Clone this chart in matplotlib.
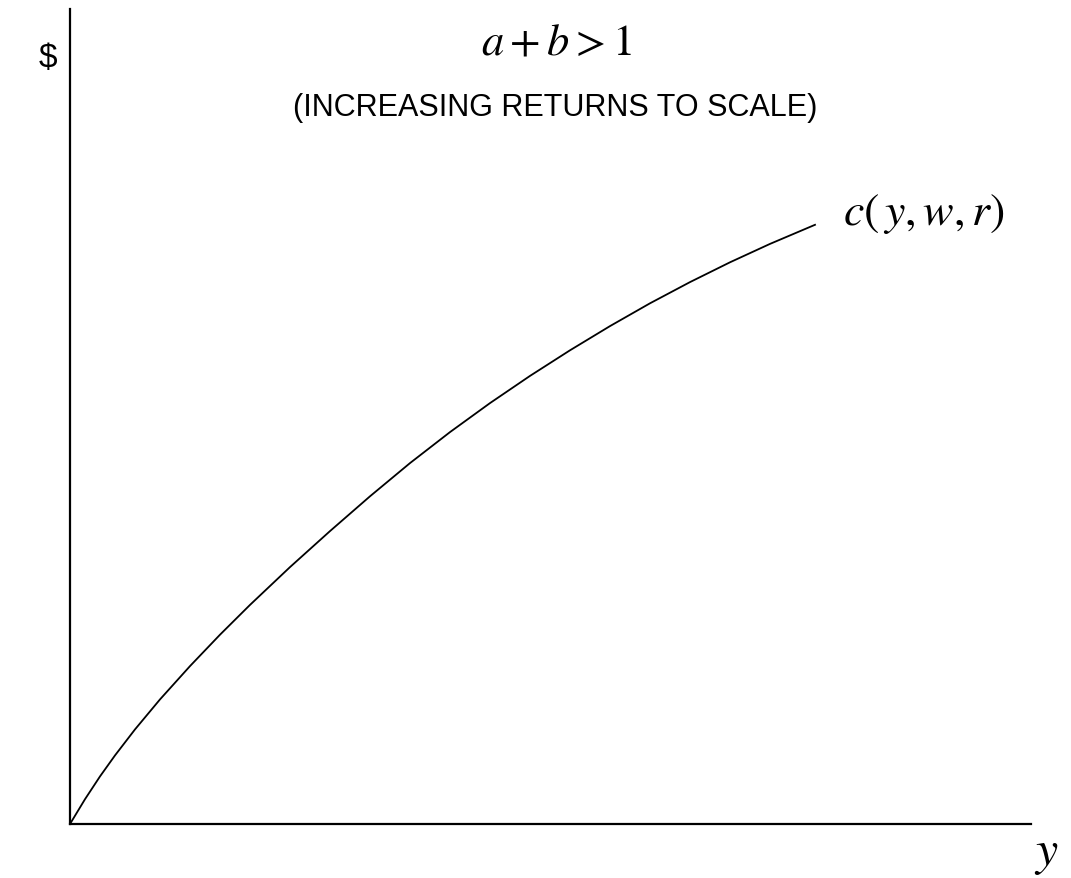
import matplotlib
matplotlib.use("Agg")
import matplotlib.pyplot as plt

plt.rcParams["mathtext.fontset"] = "stix"

# Output quantity and total cost along the cost curve
output_y = [0, 15, 30, 45, 65, 90, 120, 150, 180, 220, 260, 300, 340, 380,
            420, 460, 500, 540, 580, 620, 660, 700, 745]
cost_c = [0, 24.8, 47.6, 68.6, 94.6, 124.6, 157.9, 189.3, 219.1, 256.9,
          292.9, 327.7, 360.9, 391.9, 420.9, 448.1, 473.7, 497.9, 520.7,
          541.9, 561.7, 580.1, 599.2]

W, H = 1071, 879
fig = plt.figure(figsize=(W / 100, H / 100), dpi=100)
ax = fig.add_axes([70 / W, (H - 825) / H, (1031 - 70) / W, (825 - 10) / H])
ax.set_xlim(0, 961)
ax.set_ylim(0, 815)

ax.plot(output_y, cost_c, color="black", lw=1.3, solid_joinstyle="round")

for side in ("top", "right"):
    ax.spines[side].set_visible(False)
for side in ("left", "bottom"):
    ax.spines[side].set_linewidth(1.6)
    ax.spines[side].set_color("black")
ax.set_xticks([])
ax.set_yticks([])

sans = "Liberation Sans"
fig.text(48 / W, 1 - 59 / H, "\\$", fontsize=24, family=sans,
         ha="center", va="center")
fig.text(556 / W, 1 - 42 / H, r"$a+b>1$", fontsize=32,
         ha="center", va="center")
fig.text(555 / W, 1 - 108 / H, "(INCREASING RETURNS TO SCALE)", fontsize=22,
         family=sans, ha="center", va="center")
fig.text(924 / W, 1 - 213 / H, r"$c(\,y,w,r)$", fontsize=33,
         ha="center", va="center")
fig.text(1046 / W, 1 - 853 / H, r"$y$", fontsize=36,
         ha="center", va="center")

fig.savefig("out.png", dpi=100, facecolor="white")
